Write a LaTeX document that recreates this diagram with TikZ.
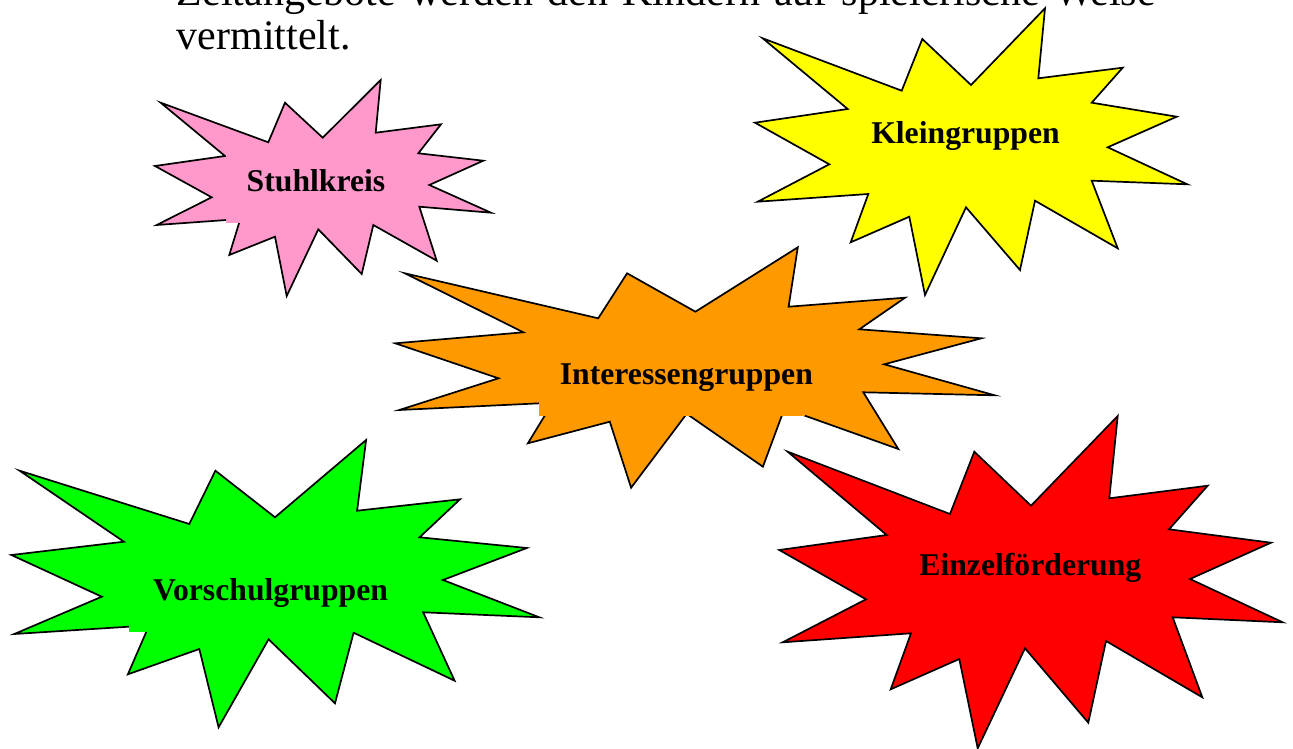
\documentclass[tikz,border=0pt]{standalone}
\usepackage{fontspec}
\setmainfont{Liberation Serif}
\definecolor{pinkc}{HTML}{FF99CC}
\definecolor{yellowc}{HTML}{FFFF00}
\definecolor{orangec}{HTML}{FF9900}
\definecolor{greenc}{HTML}{00FF00}
\definecolor{redc}{HTML}{FF0000}
\tikzset{
  burst/.style={draw=black, line width=1.7pt, line join=miter},
  label/.style={anchor=base, inner sep=0pt, font=\fontsize{31.7}{38}\selectfont\bfseries},
  bodytext/.style={anchor=base west, inner sep=0pt, font=\fontsize{42}{48}\selectfont}
}
\begin{document}
\begin{tikzpicture}[x=1pt,y=-1pt]
\useasboundingbox (0,0) rectangle (1293,749);
\fill[white] (0,0) rectangle (1293,749);
% pink
\path[burst, fill=pinkc] (160.7,102.7) -- (268.3,142.3) -- (285,102.7) -- (322.7,137.7) -- (380.7,80) -- (375.7,132.7) -- (441,124.3) -- (418.3,153.3) -- (483.3,160.7) -- (429.3,185) -- (491,212.7) -- (419.3,206.7) -- (436.7,260.7) -- (373.3,225) -- (361.7,274) -- (318.3,229.3) -- (286.7,296) -- (275,236.7) -- (229.3,255) -- (240.3,219) -- (156.7,225) -- (211.7,197.3) -- (155,166) -- (225,156) -- cycle;
\fill[pinkc] (226,150) rectangle (415,223.3);
\node[label] (stuhl) at (316,191.7) {Stuhlkreis};
% yellow
\path[burst, fill=yellowc] (762.7,38.3) -- (901.7,90.7) -- (922.3,39) -- (971,85) -- (1045,8.3) -- (1038.3,78.3) -- (1122.7,67.7) -- (1091.7,102.7) -- (1176.7,116.7) -- (1107.7,147.3) -- (1187.3,184.3) -- (1091.7,180.7) -- (1117.7,248.3) -- (1035,200.7) -- (1020,270) -- (966,207.3) -- (925,295) -- (909.3,216.7) -- (850.7,242.3) -- (868.3,194) -- (757.7,201.7) -- (829.3,164.3) -- (755,122.7) -- (847.7,109) -- cycle;
\node[label] (klein) at (965.5,143.3) {Kleingruppen};
% orange
\path[burst, fill=orangec] (404.9,273.3) -- (598.2,318.3) -- (627.1,273.3) -- (695.4,311.7) -- (797.8,247.3) -- (788.6,306.7) -- (905.1,297.7) -- (859.3,329.3) -- (981.4,338.3) -- (884.2,364.3) -- (994.7,395.3) -- (863.3,392.3) -- (898.3,449) -- (784.5,408.4) -- (762.9,466.7) -- (686.7,413.8) -- (631.1,487.7) -- (609.8,421.7) -- (527.9,443.3) -- (552.6,402.7) -- (399.3,410) -- (498.5,378.3) -- (395.3,343.3) -- (523.4,332.3) -- cycle;
\fill[orangec] (538.7,340) rectangle (805,415.7);
\node[label] (inter) at (686.4,384) {Interessengruppen};
% green
\path[burst, fill=greenc] (19.6,470.7) -- (189.3,524) -- (215.4,470.7) -- (275,517.3) -- (366.1,440) -- (357.1,510.7) -- (460,499.3) -- (419.6,537.3) -- (526.8,548) -- (442.9,580) -- (539.3,617.3) -- (423.2,612.3) -- (454.6,680.7) -- (353.6,632.7) -- (335,703.3) -- (268.6,639.3) -- (218.6,727.3) -- (199.3,649) -- (127.9,674.3) -- (149.1,625.4) -- (14.3,634) -- (101.8,596.7) -- (11.4,555) -- (123.9,541.7) -- cycle;
\fill[greenc] (129.3,560) rectangle (405,631.7);
\node[label] (vorschul) at (270.5,600) {Vorschulgruppen};
% red
\path[burst, fill=redc] (787.7,451.7) -- (950,514) -- (974.3,451.7) -- (1031,505.7) -- (1117.7,416) -- (1109.3,498.3) -- (1207.7,485.7) -- (1169,529.3) -- (1271,542.7) -- (1190,579) -- (1282.7,622.3) -- (1172.7,617.3) -- (1202.3,697.3) -- (1106,641) -- (1088.3,722.7) -- (1025,648.3) -- (977.7,748.3) -- (959.3,659) -- (890.7,689.3) -- (911,633.3) -- (782.7,642.3) -- (866,599.3) -- (779.3,550) -- (886.7,535) -- cycle;
\node[label] (einzel) at (1030.3,575.7) {Einzelförderung};
% running text at top (first line is cut by the top edge, as in the reference)
\begin{scope}
\clip (0,0) rectangle (1293,749);
\node[bodytext] (line1) at (176.5,5.5) {\hbox to 979pt{Zeitangebote\hfill werden\hfill den\hfill Kindern\hfill auf\hfill spielerische\hfill Weise}};
\node[bodytext] (line2) at (176.5,50) {vermittelt.};
\end{scope}
\end{tikzpicture}
\end{document}
